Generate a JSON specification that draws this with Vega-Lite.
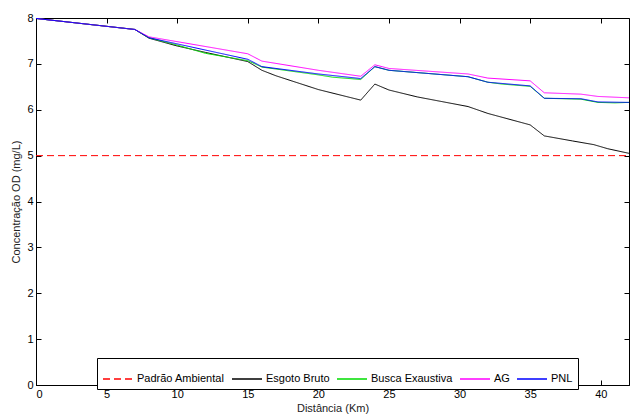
{
  "$schema": "https://vega.github.io/schema/vega-lite/v6.json",
  "width": 593,
  "height": 367,
  "autosize": "none",
  "padding": {"left": 36, "top": 18, "right": 1, "bottom": 32},
  "background": "white",
  "config": {
    "view": {"stroke": "black", "strokeWidth": 1},
    "font": "Liberation Sans",
    "axis": {
      "grid": false,
      "domainColor": "black",
      "tickColor": "black",
      "labelColor": "black",
      "titleColor": "#222",
      "labelFont": "Liberation Sans",
      "titleFont": "Liberation Sans",
      "labelFontSize": 11,
      "titleFontSize": 11,
      "titleFontWeight": "normal",
      "tickSize": -5,
      "labelPadding": 8
    }
  },
  "data": {
    "values": [
      {"serie": "Padrão Ambiental", "x": 0, "y": 5},
      {"serie": "Padrão Ambiental", "x": 42, "y": 5},

      {"serie": "Esgoto Bruto", "x": 0, "y": 7.99},
      {"serie": "Esgoto Bruto", "x": 7, "y": 7.75},
      {"serie": "Esgoto Bruto", "x": 8, "y": 7.56},
      {"serie": "Esgoto Bruto", "x": 10, "y": 7.39},
      {"serie": "Esgoto Bruto", "x": 12, "y": 7.25},
      {"serie": "Esgoto Bruto", "x": 15, "y": 7.05},
      {"serie": "Esgoto Bruto", "x": 16, "y": 6.86},
      {"serie": "Esgoto Bruto", "x": 17, "y": 6.74},
      {"serie": "Esgoto Bruto", "x": 20, "y": 6.44},
      {"serie": "Esgoto Bruto", "x": 23, "y": 6.21},
      {"serie": "Esgoto Bruto", "x": 24, "y": 6.56},
      {"serie": "Esgoto Bruto", "x": 25, "y": 6.43},
      {"serie": "Esgoto Bruto", "x": 27, "y": 6.28},
      {"serie": "Esgoto Bruto", "x": 30.6, "y": 6.07},
      {"serie": "Esgoto Bruto", "x": 32, "y": 5.92},
      {"serie": "Esgoto Bruto", "x": 35, "y": 5.67},
      {"serie": "Esgoto Bruto", "x": 36, "y": 5.43},
      {"serie": "Esgoto Bruto", "x": 38, "y": 5.32},
      {"serie": "Esgoto Bruto", "x": 39.5, "y": 5.24},
      {"serie": "Esgoto Bruto", "x": 40.5, "y": 5.15},
      {"serie": "Esgoto Bruto", "x": 42, "y": 5.05},

      {"serie": "Busca Exaustiva", "x": 0, "y": 7.99},
      {"serie": "Busca Exaustiva", "x": 7, "y": 7.75},
      {"serie": "Busca Exaustiva", "x": 8, "y": 7.57},
      {"serie": "Busca Exaustiva", "x": 10, "y": 7.41},
      {"serie": "Busca Exaustiva", "x": 12, "y": 7.23},
      {"serie": "Busca Exaustiva", "x": 15, "y": 7.07},
      {"serie": "Busca Exaustiva", "x": 16, "y": 6.93},
      {"serie": "Busca Exaustiva", "x": 20, "y": 6.76},
      {"serie": "Busca Exaustiva", "x": 21, "y": 6.71},
      {"serie": "Busca Exaustiva", "x": 23, "y": 6.66},
      {"serie": "Busca Exaustiva", "x": 24, "y": 6.94},
      {"serie": "Busca Exaustiva", "x": 25, "y": 6.86},
      {"serie": "Busca Exaustiva", "x": 30.6, "y": 6.72},
      {"serie": "Busca Exaustiva", "x": 32, "y": 6.6},
      {"serie": "Busca Exaustiva", "x": 33, "y": 6.56},
      {"serie": "Busca Exaustiva", "x": 35, "y": 6.51},
      {"serie": "Busca Exaustiva", "x": 36, "y": 6.25},
      {"serie": "Busca Exaustiva", "x": 38.6, "y": 6.23},
      {"serie": "Busca Exaustiva", "x": 39.8, "y": 6.16},
      {"serie": "Busca Exaustiva", "x": 41, "y": 6.15},
      {"serie": "Busca Exaustiva", "x": 42, "y": 6.16},

      {"serie": "AG", "x": 0, "y": 7.99},
      {"serie": "AG", "x": 7, "y": 7.75},
      {"serie": "AG", "x": 8, "y": 7.59},
      {"serie": "AG", "x": 15, "y": 7.22},
      {"serie": "AG", "x": 16, "y": 7.06},
      {"serie": "AG", "x": 20, "y": 6.86},
      {"serie": "AG", "x": 23, "y": 6.73},
      {"serie": "AG", "x": 24, "y": 6.98},
      {"serie": "AG", "x": 25, "y": 6.9},
      {"serie": "AG", "x": 30.6, "y": 6.78},
      {"serie": "AG", "x": 32, "y": 6.69},
      {"serie": "AG", "x": 35, "y": 6.63},
      {"serie": "AG", "x": 36, "y": 6.37},
      {"serie": "AG", "x": 38.6, "y": 6.34},
      {"serie": "AG", "x": 39.8, "y": 6.29},
      {"serie": "AG", "x": 42, "y": 6.26},

      {"serie": "PNL", "x": 0, "y": 7.99},
      {"serie": "PNL", "x": 7, "y": 7.75},
      {"serie": "PNL", "x": 8, "y": 7.57},
      {"serie": "PNL", "x": 15, "y": 7.1},
      {"serie": "PNL", "x": 16, "y": 6.94},
      {"serie": "PNL", "x": 20, "y": 6.78},
      {"serie": "PNL", "x": 23, "y": 6.68},
      {"serie": "PNL", "x": 24, "y": 6.94},
      {"serie": "PNL", "x": 25, "y": 6.86},
      {"serie": "PNL", "x": 30.6, "y": 6.72},
      {"serie": "PNL", "x": 32, "y": 6.6},
      {"serie": "PNL", "x": 35, "y": 6.52},
      {"serie": "PNL", "x": 36, "y": 6.25},
      {"serie": "PNL", "x": 38.6, "y": 6.24},
      {"serie": "PNL", "x": 39.8, "y": 6.17},
      {"serie": "PNL", "x": 42, "y": 6.16}
    ]
  },
  "layer": [
    {
      "mark": {"type": "line", "strokeWidth": 1, "clip": true},
      "encoding": {
        "x": {
          "field": "x", "type": "quantitative",
          "scale": {"domain": [0, 42], "nice": false},
          "axis": {"values": [0, 5, 10, 15, 20, 25, 30, 35, 40], "title": "Distância (Km)", "titlePadding": 3}
        },
        "y": {
          "field": "y", "type": "quantitative",
          "scale": {"domain": [0, 8], "nice": false},
          "axis": {"values": [0, 1, 2, 3, 4, 5, 6, 7, 8], "title": "Concentração OD (mg/L)", "titlePadding": 5}
        },
        "color": {
          "field": "serie", "type": "nominal", "sort": null,
          "scale": {
            "domain": ["Padrão Ambiental", "Esgoto Bruto", "Busca Exaustiva", "AG", "PNL"],
            "range": ["#ff0000", "#000000", "#00dd00", "#ff00ff", "#0000ff"]
          },
          "legend": {
            "title": null,
            "orient": "none",
            "legendX": 61,
            "legendY": 340,
            "direction": "horizontal",
            "strokeColor": "black",
            "fillColor": "white",
            "padding": 5,
            "symbolType": "stroke",
            "symbolSize": 900,
            "symbolStrokeWidth": 1.5,
            "labelFont": "Liberation Sans",
            "labelFontSize": 11,
            "labelColor": "black",
            "columnPadding": 4,
            "labelOffset": 3
          }
        },
        "strokeDash": {
          "field": "serie", "type": "nominal", "sort": null,
          "scale": {
            "domain": ["Padrão Ambiental", "Esgoto Bruto", "Busca Exaustiva", "AG", "PNL"],
            "range": [[7, 4], [1, 0], [1, 0], [1, 0], [1, 0]]
          },
          "legend": null
        },
        "order": {"field": "x", "type": "quantitative"}
      }
    },
    {
      "mark": {"type": "rule", "opacity": 0},
      "data": {"values": [{"x": 0, "y": 0}]},
      "encoding": {
        "x": {"field": "x", "type": "quantitative", "axis": {"values": [0, 5, 10, 15, 20, 25, 30, 35, 40], "labels": false, "title": null, "domain": false}},
        "y": {"field": "y", "type": "quantitative", "axis": {"values": [0, 1, 2, 3, 4, 5, 6, 7, 8], "labels": false, "title": null, "domain": false}}
      }
    }
  ],
  "resolve": {"axis": {"x": "independent", "y": "independent"}}
}
